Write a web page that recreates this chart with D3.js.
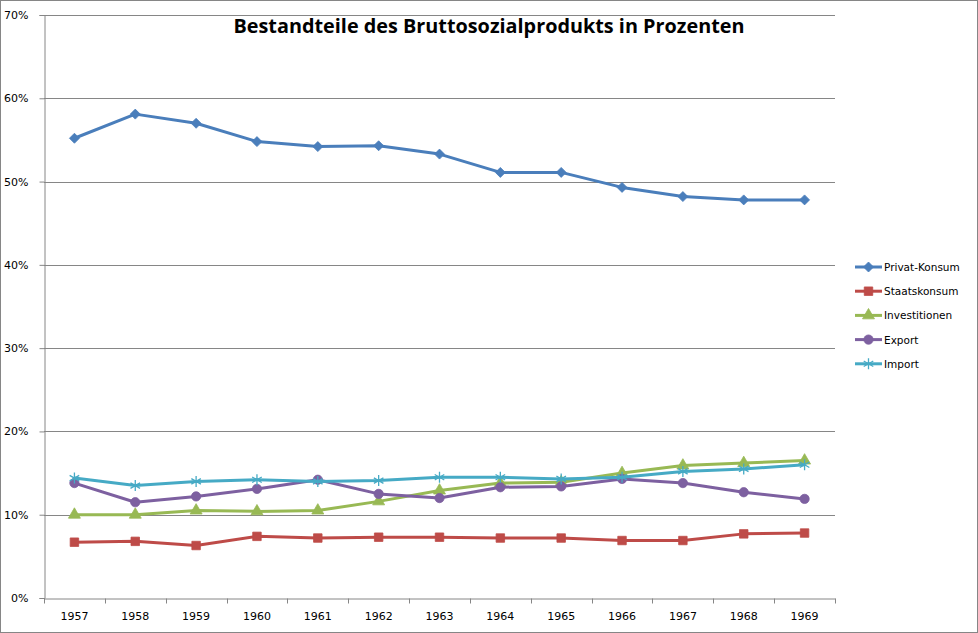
<!DOCTYPE html>
<html>
<head>
<meta charset="utf-8">
<script src="https://cdn.jsdelivr.net/npm/d3@7"></script>
<style>
  body { margin: 0; background: #fff; }
  svg { display: block; }
  .lbl { font-family: "DejaVu Sans", Verdana, sans-serif; }
</style>
</head>
<body>
<div id="chart"></div>
<script>
"use strict"

// data (percent of GNP)
let years = ["1957","1958","1959","1960","1961","1962","1963","1964","1965","1966","1967","1968","1969"];
let privatKonsum = [55.2,58.1,57.0,54.8,54.2,54.3,53.3,51.1,51.1,49.3,48.2,47.8,47.8];
let staatskonsum = [6.7,6.8,6.3,7.4,7.2,7.3,7.3,7.2,7.2,6.9,6.9,7.7,7.8];
let investitionen = [10.0,10.0,10.5,10.4,10.5,11.6,12.9,13.8,13.9,15.0,15.9,16.2,16.5];
let exportWerte = [13.8,11.5,12.2,13.1,14.2,12.5,12.0,13.3,13.4,14.3,13.8,12.7,11.9];
let importWerte = [14.4,13.5,14.0,14.2,14.0,14.1,14.5,14.5,14.3,14.5,15.2,15.5,16.0];
let seriesNames = ["Privat-Konsum","Staatskonsum","Investitionen","Export","Import"];
let yTicks = [0,10,20,30,40,50,60,70];

let App = {};

App.chart = function() {
  let width = 978;
  let height = 633;
  let plot = {left: 44, right: 835, top: 15, bottom: 598};

  let series = [
    {name: seriesNames[0], values: privatKonsum, color: "#4a7ebb", marker: "diamond"},
    {name: seriesNames[1], values: staatskonsum, color: "#be4b48", marker: "square"},
    {name: seriesNames[2], values: investitionen, color: "#98b954", marker: "triangle"},
    {name: seriesNames[3], values: exportWerte, color: "#7d60a0", marker: "circle"},
    {name: seriesNames[4], values: importWerte, color: "#46aac5", marker: "star"}
  ];

  let svg = d3.select("#chart").append("svg")
              .attr("width", width)
              .attr("height", height);

  // outer chart border
  svg.append("rect")
     .attr("x", 0.5).attr("y", 0.5)
     .attr("width", width - 1).attr("height", height - 1)
     .attr("fill", "#fff")
     .attr("stroke", "#868686");

  let x = d3.scaleBand()
            .domain(years)
            .range([plot.left, plot.right]);
  let y = d3.scaleLinear()
            .domain([0, 70])
            .range([plot.bottom, plot.top]);

  // gridlines
  svg.append("g")
     .selectAll("line")
     .data(yTicks.filter(function(d){ return d > 0; }))
     .join("line")
     .attr("x1", plot.left).attr("x2", plot.right)
     .attr("y1", function(d){ return Math.round(y(d)) + 0.5; })
     .attr("y2", function(d){ return Math.round(y(d)) + 0.5; })
     .attr("stroke", "#868686");

  // y axis
  let yAxis = svg.append("g")
                 .attr("transform", "translate(" + (plot.left + 0.5) + ",0)")
                 .call(d3.axisLeft(y)
                 .tickValues(yTicks)
                 .tickSize(5)
                 .tickPadding(8)
                 .tickFormat(function(d){ return d + "%"; }));

  // x axis, ticks on category boundaries
  let xAxis = svg.append("g")
                 .attr("transform", "translate(0," + (plot.bottom + 0.5) + ")")
                 .call(d3.axisBottom(x).tickSize(0).tickPadding(14));
  xAxis.selectAll(".bound")
       .data(years.concat(["end"]))
       .join("line")
       .attr("class", "bound")
       .attr("x1", function(d, i){ return Math.round(plot.left + i * x.step()) + 0.5; })
       .attr("x2", function(d, i){ return Math.round(plot.left + i * x.step()) + 0.5; })
       .attr("y1", 0).attr("y2", 5)
       .attr("stroke", "#868686");

  [yAxis, xAxis].forEach(function(a){
    a.attr("font-family", null).attr("font-size", null);
    a.select(".domain").attr("stroke", "#868686");
    a.selectAll(".tick line").attr("stroke", "#868686");
    a.selectAll("text")
     .attr("class", "lbl")
     .attr("font-size", "11px")
     .attr("fill", "#000");
  });
  yAxis.selectAll("text").attr("dx", "-3");

  let line = d3.line()
               .x(function(d, i){ return x(years[i]) + x.bandwidth() / 2; })
               .y(function(d){ return y(d); });

  function drawMarker(g, type, color) {
    if (type === "star") {
      let r = 5.5;
      g.append("path")
       .attr("d", "M0," + (-r) + "V" + r +
                  "M" + (-r*0.87) + "," + (-r*0.5) + "L" + (r*0.87) + "," + (r*0.5) +
                  "M" + (-r*0.87) + "," + (r*0.5) + "L" + (r*0.87) + "," + (-r*0.5))
       .attr("stroke", color)
       .attr("stroke-width", 1.3)
       .attr("fill", "none");
      return;
    }
    if (type === "diamond") {
      let r = 5;
      g.append("path")
       .attr("d", "M0," + (-r) + "L" + r + ",0L0," + r + "L" + (-r) + ",0Z")
       .attr("fill", color)
       .attr("stroke", color)
       .attr("stroke-width", 0.8);
      return;
    }
    let sym = {square: d3.symbolSquare, triangle: d3.symbolTriangle, circle: d3.symbolCircle}[type];
    let size = {square: 72, triangle: 62, circle: 68}[type];
    g.append("path")
     .attr("d", d3.symbol().type(sym).size(size)())
     .attr("fill", color)
     .attr("stroke", color)
     .attr("stroke-width", 0.8);
  }

  let lines = svg.append("g")
                 .selectAll("g")
                 .data(series)
                 .join("g");

  lines.append("path")
       .attr("d", function(d){ return line(d.values); })
       .attr("fill", "none")
       .attr("stroke", function(d){ return d.color; })
       .attr("stroke-width", 3)
       .attr("stroke-linejoin", "round");

  lines.each(function(s){
    let grp = d3.select(this);
    s.values.forEach(function(v, i){
      let m = grp.append("g")
                 .attr("transform", "translate(" + (x(years[i]) + x.bandwidth() / 2) + "," + y(v) + ")");
      drawMarker(m, s.marker, s.color);
    });
  });

  // title
  svg.append("text")
     .attr("x", 489)
     .attr("y", 33)
     .attr("text-anchor", "middle")
     .attr("font-family", "Open Sans, Liberation Sans, sans-serif")
     .attr("font-weight", "bold")
     .attr("font-size", "20px")
     .attr("textLength", 511)
     .attr("lengthAdjust", "spacingAndGlyphs")
     .text("Bestandteile des Bruttosozialprodukts in Prozenten");

  // legend
  let legend = svg.append("g")
                  .selectAll("g")
                  .data(series)
                  .join("g")
                  .attr("transform", function(d, i){ return "translate(855," + (267 + i * 24.2) + ")"; });
  legend.append("line")
        .attr("x1", 0).attr("x2", 27)
        .attr("stroke", function(d){ return d.color; })
        .attr("stroke-width", 3);
  legend.each(function(s){
    let m = d3.select(this).append("g").attr("transform", "translate(13.5,0)");
    drawMarker(m, s.marker, s.color);
  });
  legend.append("text")
        .attr("class", "lbl")
        .attr("x", 29)
        .attr("y", 4)
        .attr("font-size", "10.5px")
        .text(function(d){ return d.name; });
}

App.chart();
</script>
</body>
</html>
